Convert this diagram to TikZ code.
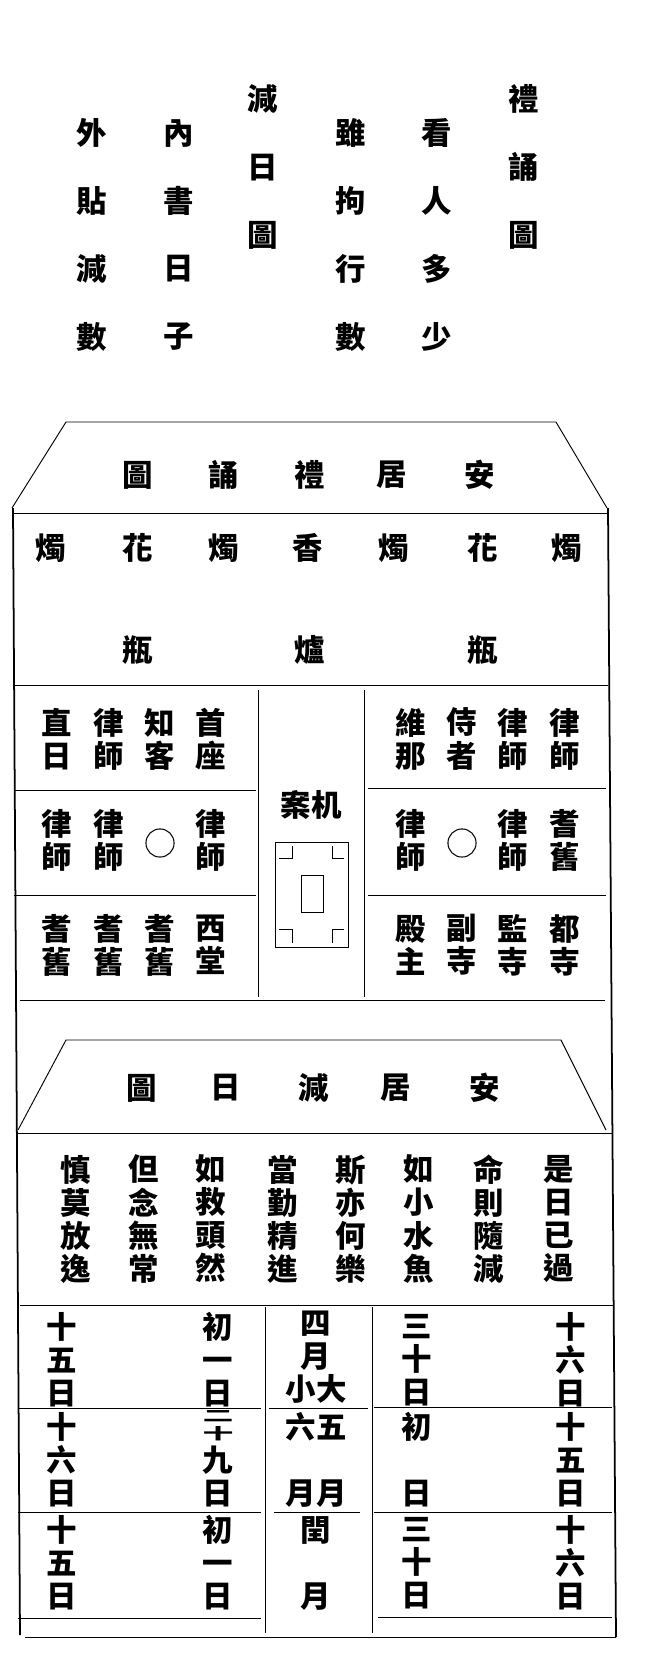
\documentclass[tikz,border=0pt]{standalone}
\usepackage{fontspec}
\usepackage{tikz,graphicx}
\usetikzlibrary{positioning}
\newfontfamily\cjk{Noto Sans CJK TC}
\tikzset{
every node/.style={inner sep=0pt, align=center}, % bare characters, no frame
zi/.style={font=\cjk\bfseries\fontsize{26}{28.2}\selectfont}, % characters stacked close together
zitop/.style={font=\cjk\bfseries\fontsize{26}{58}\selectfont}, % the widely spaced columns at the top
rule/.style={line width=0.8pt}, % thin ruled lines
wall/.style={line width=1.5pt}, % the two outer walls
ring/.style={circle, draw, line width=0.9pt, minimum size=24}, % the empty seat
}

\begin{document}
\begin{tikzpicture}[x=0.3mm, y=-0.3mm]
       \useasboundingbox (0,0) rectangle (644,1676);

       % heading columns, read from right to left
       \node[zitop] (lisong) at (524,167) {禮\\誦\\圖};
       \node[zitop] (kanren) at (437,235) {看\\人\\多\\少};
       \node[zitop] (suiju) at (351,235) {雖\\拘\\行\\數};
       \node[zitop] (jianri) at (263,167) {減\\日\\圖};
       \node[zitop] (neishu) at (179,235) {內\\書\\日\\子};
       \node[zitop] (waitie) at (92,235) {外\\貼\\減\\數};

       % first hall
       \coordinate (roofA1) at (12,508);
       \coordinate (roofA2) at (66,422);
       \coordinate (roofA3) at (556,422);
       \coordinate (roofA4) at (607,508);
       \draw[rule] (roofA1) -- (roofA2) -- (roofA3) -- (roofA4);
       \draw[rule] (12,513) -- (608,513);
       \draw[wall] (13,508) -- (20,1635);
       \draw[wall] (608,508) -- (616,1637);

       \node[zi] (tA1) at (480,475) {安};
       \node[zi] (tA2) at (392,475) {居};
       \node[zi] (tA3) at (310,475) {禮};
       \node[zi] (tA4) at (224,475) {誦};
       \node[zi] (tA5) at (138,475) {圖};

       \node[zi] (zhu1) at (567,548) {燭};
       \node[zi] (hua1) at (483,548) {花};
       \node[zi] (zhu2) at (394,548) {燭};
       \node[zi] (xiang) at (308,548) {香};
       \node[zi] (zhu3) at (224,548) {燭};
       \node[zi] (hua2) at (138,548) {花};
       \node[zi] (zhu4) at (51,548) {燭};
       \node[zi] (ping1) at (483,650) {瓶};
       \node[zi] (lu) at (310,650) {爐};
       \node[zi] (ping2) at (138,650) {瓶};

       % seats left and right of the altar
       \draw[rule] (14,685) -- (608,685);
       \draw[rule] (258,690) -- (258,997);
       \draw[rule] (364,690) -- (364,997);
       \draw[rule] (14,790) -- (256,790);
       \draw[rule] (14,895) -- (256,895);
       \draw[rule] (368,788) -- (606,788);
       \draw[rule] (368,895) -- (606,895);
       \draw[rule] (20,1000) -- (605,1000);

       \node[zi] (L11) at (211,739) {首\\座};
       \node[zi] (L12) at (160,739) {知\\客};
       \node[zi] (L13) at (109,739) {律\\師};
       \node[zi] (L14) at (57,739) {直\\日};
       \node[zi] (L21) at (211,840) {律\\師};
       \node[ring] (L22) at (160,843) {};
       \node[zi] (L23) at (109,840) {律\\師};
       \node[zi] (L24) at (57,840) {律\\師};
       \node[zi] (L31) at (211,945) {西\\堂};
       \node[zi] (L32) at (160,945) {耆\\舊};
       \node[zi] (L33) at (109,945) {耆\\舊};
       \node[zi] (L34) at (57,945) {耆\\舊};

       \node[zi] (R11) at (565,739) {律\\師};
       \node[zi] (R12) at (513,739) {律\\師};
       \node[zi] (R13) at (462,739) {侍\\者};
       \node[zi] (R14) at (411,739) {維\\那};
       \node[zi] (R21) at (565,840) {耆\\舊};
       \node[zi] (R22) at (513,840) {律\\師};
       \node[ring] (R23) at (462,843) {};
       \node[zi] (R24) at (411,840) {律\\師};
       \node[zi] (R31) at (565,945) {都\\寺};
       \node[zi] (R32) at (513,945) {監\\寺};
       \node[zi] (R33) at (462,945) {副\\寺};
       \node[zi] (R34) at (411,945) {殿\\主};

       % the altar table
       \node[zi] (anji) at (311,805) {案机};
       \draw[rule] (275,842) rectangle (348,947);
       \draw[rule] (301,875) rectangle (323,912);
       \draw[rule] (279,858) -| (292,846);
       \draw[rule] (344,858) -| (332,846);
       \draw[rule] (279,929) -| (292,943);
       \draw[rule] (344,929) -| (332,943);

       % second hall
       \coordinate (roofB1) at (18,1130);
       \coordinate (roofB2) at (66,1040);
       \coordinate (roofB3) at (561,1040);
       \coordinate (roofB4) at (606,1130);
       \draw[rule] (roofB1) -- (roofB2) -- (roofB3) -- (roofB4);
       \draw[rule] (18,1133) -- (612,1133);

       \node[zi] (tB1) at (485,1088) {安};
       \node[zi] (tB2) at (396,1088) {居};
       \node[zi] (tB3) at (314,1088) {減};
       \node[zi] (tB4) at (226,1088) {日};
       \node[zi] (tB5) at (142,1088) {圖};

       \node[zi] (v1) at (559,1219) {是\\日\\已\\過};
       \node[zi] (v2) at (489,1219) {命\\則\\隨\\減};
       \node[zi] (v3) at (419,1219) {如\\小\\水\\魚};
       \node[zi] (v4) at (351,1219) {斯\\亦\\何\\樂};
       \node[zi] (v5) at (283,1219) {當\\勤\\精\\進};
       \node[zi] (v6) at (211,1219) {如\\救\\頭\\然};
       \node[zi] (v7) at (144,1219) {但\\念\\無\\常};
       \node[zi] (v8) at (76,1219) {慎\\莫\\放\\逸};

       % calendar of the retreat
       \draw[rule] (20,1305) -- (614,1305);
       \draw[rule] (265,1307) -- (265,1633);
       \draw[rule] (372,1307) -- (372,1633);
       \draw[rule] (18,1408) -- (261,1408);
       \draw[rule] (18,1512) -- (261,1512);
       \draw[rule] (18,1618) -- (261,1618);
       \draw[rule] (269,1408) -- (368,1408);
       \draw[rule] (274,1512) -- (360,1512);
       \draw[rule] (374,1407) -- (612,1407);
       \draw[rule] (374,1512) -- (612,1512);
       \draw[rule] (378,1617) -- (612,1617);
       \draw[rule] (25,1637) -- (616,1637);

       \node[zi] (c11) at (571,1360) {十\\六\\日};
       \node[zi] (c12) at (417,1360) {三\\十\\日};
       \node[zi] (c13) at (316,1357) {四\\月\\小大};
       \node[zi] (c14) at (218,1360) {初\\一\\日};
       \node[zi] (c15) at (62,1360) {十\\五\\日};
       \node[zi] (c21) at (571,1460) {十\\五\\日};
       \node[zi] (c22) at (417,1460) {初\\\phantom{初}\\日};
       \node[zi] (c23) at (316,1460) {六五\\\phantom{六}\\月月};
       \node[zi] (c24a) at (218,1427) {\scalebox{1}[0.5]{\begin{tabular}{@{}c@{}}二\\十\end{tabular}}};
       \node[zi] (c24) at (218,1476) {九\\日};
       \node[zi] (c25) at (62,1460) {十\\六\\日};
       \node[zi] (c31) at (571,1563) {十\\六\\日};
       \node[zi] (c32) at (417,1563) {三\\十\\日};
       \node[zi] (c33) at (316,1563) {閏\\\phantom{閏}\\月};
       \node[zi] (c34) at (218,1563) {初\\一\\日};
       \node[zi] (c35) at (62,1563) {十\\五\\日};
\end{tikzpicture}
\end{document}
